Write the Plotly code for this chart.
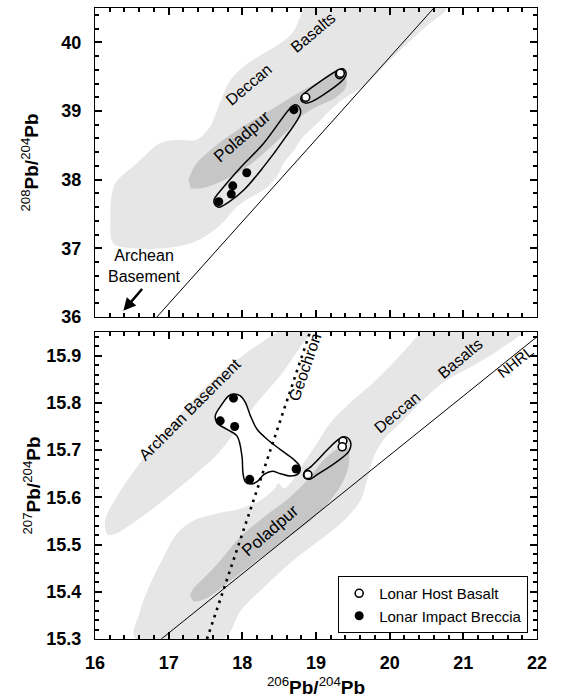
import plotly.graph_objects as go

FONT = "Liberation Sans, Arial, Helvetica, sans-serif"

# ---------------- axis ranges ----------------
x_range = [16, 22]
top_y_range = [36, 40.5]
bot_y_range = [15.3, 15.95]

# ---------------- top panel: 208Pb/204Pb vs 206Pb/204Pb ----------------
top_breccia_x = [17.68, 17.85, 17.87, 18.06, 18.70]
top_breccia_y = [37.68, 37.79, 37.91, 38.10, 39.02]
top_host_x = [18.86, 19.32, 19.33]
top_host_y = [39.20, 39.53, 39.55]

top_deccan_x = [18.83, 20.76, 20.47, 20.195, 19.92, 19.65, 19.42, 19.20, 19.02, 18.83, 18.70, 18.56,
                18.47, 18.29, 18.06, 17.88, 17.75, 17.56, 17.29, 16.93, 16.52, 16.25, 16.21, 16.23,
                16.29, 16.57, 16.88, 17.11, 17.38, 17.56, 17.66, 17.75, 17.84, 18.02, 18.29, 18.52,
                18.68, 18.77]
top_deccan_y = [40.50, 40.50, 40.21, 39.94, 39.65, 39.36, 39.21, 39.02, 38.82, 38.63, 38.43, 38.24,
                38.05, 37.85, 37.71, 37.56, 37.39, 37.22, 37.07, 37.00, 37.00, 37.07, 37.46, 37.80,
                37.97, 38.24, 38.53, 38.58, 38.58, 38.77, 39.02, 39.26, 39.45, 39.65, 39.84, 39.99,
                40.14, 40.33]

top_polad_x = [17.27, 17.36, 17.60, 17.93, 18.38, 18.74, 19.06, 19.29, 19.39, 19.41, 19.26, 19.04,
               18.81, 18.63, 18.40, 18.08, 17.76, 17.47, 17.30]
top_polad_y = [38.00, 38.21, 38.46, 38.72, 39.01, 39.25, 39.44, 39.56, 39.52, 39.36, 39.19, 39.08,
               38.93, 38.73, 38.49, 38.20, 38.00, 37.88, 37.87]

top_breccia_env_x = [17.619, 17.72, 17.97, 18.29, 18.64, 18.71, 18.77, 18.79, 18.56, 18.29, 18.02,
                     17.81, 17.68, 17.62, 17.619]
top_breccia_env_y = [37.716, 37.86, 38.17, 38.53, 39.03, 39.09, 39.06, 38.97, 38.58, 38.19, 37.85,
                     37.67, 37.60, 37.65, 37.716]

top_host_env_x = [18.80, 18.857, 19.29, 19.365, 19.41, 19.38, 18.95, 18.857, 18.80, 18.80]
top_host_env_y = [39.21, 39.27, 39.59, 39.615, 39.55, 39.47, 39.14, 39.115, 39.15, 39.21]

top_nhrl_x = [16.84, 20.60]
top_nhrl_y = [36.00, 40.50]

# ---------------- bottom panel: 207Pb/204Pb vs 206Pb/204Pb ----------------
bot_breccia_x = [17.88, 17.70, 17.896, 18.73, 18.10]
bot_breccia_y = [15.810, 15.762, 15.750, 15.660, 15.638]
bot_host_x = [18.89, 19.365, 19.356]
bot_host_y = [15.648, 15.719, 15.707]

bot_archean_x = [16.15, 16.136, 16.295, 16.612, 16.975, 17.383, 17.837, 18.245, 18.562, 18.948,
                 18.789, 18.517, 18.200, 17.927, 17.655, 17.293, 16.930, 16.567, 16.295, 16.18]
bot_archean_y = [15.526, 15.551, 15.601, 15.673, 15.744, 15.815, 15.880, 15.926, 15.955, 15.955,
                 15.919, 15.858, 15.801, 15.744, 15.690, 15.640, 15.594, 15.551, 15.524, 15.519]

bot_deccan_x = [20.467, 21.828, 21.510, 21.147, 20.739, 20.467, 20.195, 19.923, 19.787, 19.696,
                19.605, 19.424, 19.107, 18.744, 18.336, 17.973, 17.746, 16.544, 16.612, 16.748,
                16.930, 17.111, 17.338, 17.655, 17.973, 18.245, 18.426, 18.494, 18.562, 18.653,
                18.834, 19.016, 19.197, 19.469, 19.787, 20.104, 20.331]
bot_deccan_y = [15.957, 15.957, 15.915, 15.880, 15.844, 15.808, 15.765, 15.723, 15.687, 15.637,
                15.594, 15.558, 15.516, 15.473, 15.416, 15.359, 15.301, 15.301, 15.359, 15.416,
                15.473, 15.523, 15.551, 15.566, 15.576, 15.594, 15.616, 15.630, 15.619, 15.630,
                15.673, 15.715, 15.758, 15.801, 15.844, 15.894, 15.933]

bot_polad_x = [17.338, 17.655, 17.973, 18.290, 18.653, 18.925, 19.107, 19.333, 19.433, 19.447,
               19.379, 19.197, 18.925, 18.562, 18.200, 17.837, 17.519, 17.338, 17.293]
bot_polad_y = [15.408, 15.458, 15.516, 15.558, 15.601, 15.644, 15.680, 15.705, 15.703, 15.673,
               15.637, 15.594, 15.551, 15.508, 15.466, 15.423, 15.387, 15.380, 15.394]

bot_breccia_env_x = [17.882, 17.973, 18.041, 18.109, 18.200, 18.336, 18.517, 18.698, 18.780, 18.766,
                     18.653, 18.517, 18.404, 18.290, 18.200, 18.109, 18.041, 18.009, 17.995, 17.927,
                     17.791, 17.655, 17.633, 17.723, 17.814, 17.882]
bot_breccia_env_y = [15.819, 15.815, 15.801, 15.773, 15.744, 15.723, 15.701, 15.680, 15.665, 15.651,
                     15.645, 15.650, 15.655, 15.648, 15.633, 15.628, 15.633, 15.651, 15.687, 15.730,
                     15.744, 15.758, 15.773, 15.797, 15.815, 15.819]

bot_host_env_x = [18.848, 18.925, 19.311, 19.401, 19.469, 19.447, 19.016, 18.902, 18.834, 18.848]
bot_host_env_y = [15.655, 15.664, 15.723, 15.728, 15.717, 15.698, 15.648, 15.638, 15.644, 15.655]

bot_nhrl_x = [16.90, 22.00]
bot_nhrl_y = [15.300, 15.940]
geochron_x = [17.52, 18.93]
geochron_y = [15.300, 15.955]

LIGHT = "#e6e6e6"
DARK = "#c6c6c6"

fig = go.Figure()


def region(x, y, color, xa, ya):
    fig.add_trace(go.Scatter(x=x, y=y, fill="toself", fillcolor=color, mode="lines",
                             line=dict(width=0, shape="spline", smoothing=1.0),
                             hoverinfo="skip", showlegend=False, xaxis=xa, yaxis=ya))


def line(x, y, xa, ya, width=1.0, dash="solid", spline=False, fill=None):
    kw = dict(fill="toself", fillcolor=fill) if fill else {}
    fig.add_trace(go.Scatter(x=x, y=y, mode="lines",
                             line=dict(color="black", width=width, dash=dash,
                                       shape="spline" if spline else "linear"),
                             hoverinfo="skip", showlegend=False, xaxis=xa, yaxis=ya, **kw))


def points(x, y, xa, ya, host, legend):
    if host:
        marker = dict(symbol="circle", size=8, color="white", line=dict(color="black", width=1.6))
        name = "Lonar Host Basalt"
        rank = 1
    else:
        marker = dict(symbol="circle", size=9, color="black", line=dict(color="black", width=0))
        name = "Lonar Impact Breccia"
        rank = 2
    fig.add_trace(go.Scatter(x=x, y=y, mode="markers", marker=marker, name=name,
                             legendrank=rank, showlegend=legend, xaxis=xa, yaxis=ya))


# top panel
region(top_deccan_x, top_deccan_y, LIGHT, "x", "y")
region(top_polad_x, top_polad_y, DARK, "x", "y")
line(top_nhrl_x, top_nhrl_y, "x", "y", width=1.0)
line(top_breccia_env_x, top_breccia_env_y, "x", "y", width=1.5, spline=True)
line(top_host_env_x, top_host_env_y, "x", "y", width=1.5, spline=True)
points(top_host_x, top_host_y, "x", "y", True, True)
points(top_breccia_x, top_breccia_y, "x", "y", False, True)

# bottom panel
region(bot_archean_x, bot_archean_y, LIGHT, "x2", "y2")
region(bot_deccan_x, bot_deccan_y, LIGHT, "x2", "y2")
region(bot_polad_x, bot_polad_y, DARK, "x2", "y2")
line(bot_breccia_env_x, bot_breccia_env_y, "x2", "y2", width=1.5, spline=True, fill="white")
line(bot_nhrl_x, bot_nhrl_y, "x2", "y2", width=1.0)
line(geochron_x, geochron_y, "x2", "y2", width=2.6, dash="2.6px,5px")
line(bot_host_env_x, bot_host_env_y, "x2", "y2", width=1.5, spline=True)
points(bot_host_x, bot_host_y, "x2", "y2", True, False)
points(bot_breccia_x, bot_breccia_y, "x2", "y2", False, False)

tick_font = dict(family=FONT, size=18, color="black", weight="bold")
title_font = dict(family=FONT, size=19, color="black")


def axis(**kw):
    d = dict(showline=True, linecolor="black", linewidth=1, mirror="ticks",
             ticks="inside", ticklen=7, tickwidth=1.5, tickcolor="black",
             showgrid=False, zeroline=False, automargin=False, tickfont=tick_font)
    d.update(kw)
    return d


fig.update_layout(
    width=562, height=699,
    margin=dict(l=95, r=25, t=8, b=60),
    paper_bgcolor="white", plot_bgcolor="white",
    font=dict(family=FONT, color="black"),
    showlegend=True,
    legend=dict(x=0.98, y=0.0998, xanchor="right", yanchor="top",
                bgcolor="white", bordercolor="black", borderwidth=1,
                font=dict(family=FONT, size=15, color="black"),
                itemwidth=30, tracegroupgap=0),
    xaxis=axis(domain=[0, 1], anchor="y", range=x_range, dtick=1, showticklabels=False,
               minor=dict(dtick=0.2, ticks="inside", ticklen=4, tickwidth=1.5, tickcolor="black")),
    yaxis=axis(domain=[0.5103, 1], anchor="x", range=top_y_range, dtick=1, ticklabelstandoff=9,
               minor=dict(dtick=0.2, ticks="inside", ticklen=4, tickwidth=1.5, tickcolor="black"),
               title=dict(text="<sup>208</sup><b>Pb/</b><sup>204</sup><b>Pb</b>",
                          font=title_font, standoff=17)),
    xaxis2=axis(domain=[0, 1], anchor="y2", range=x_range, dtick=1, ticklabelstandoff=7,
                minor=dict(dtick=0.2, ticks="inside", ticklen=4, tickwidth=1.5, tickcolor="black"),
                title=dict(text="<sup>206</sup><b>Pb/</b><sup>204</sup><b>Pb</b>",
                           font=title_font, standoff=9)),
    yaxis2=axis(domain=[0, 0.4865], anchor="x2", range=bot_y_range, dtick=0.1, tickformat=".1f",
                ticklabelstandoff=9,
                minor=dict(dtick=0.02, ticks="inside", ticklen=4, tickwidth=1.5, tickcolor="black"),
                title=dict(text="<sup>207</sup><b>Pb/</b><sup>204</sup><b>Pb</b>",
                           font=title_font, standoff=0)),
)


def label(text, x, y, angle, xref, yref, size=16):
    fig.add_annotation(text=text, x=x, y=y, xref=xref, yref=yref, textangle=angle,
                       showarrow=False, xanchor="center", yanchor="middle",
                       font=dict(family=FONT, size=size, color="black"))


label("Deccan", 18.09, 39.38, -40, "x", "y")
label("Basalts", 18.96, 40.14, -40, "x", "y")
label("Poladpur", 18.00, 38.63, -41, "x", "y", size=17)
label("Archean<br>Basement", 16.667, 36.75, 0, "x", "y")
fig.add_annotation(x=16.385, y=36.09, ax=16.657, ay=36.43, xref="x", yref="y", axref="x", ayref="y",
                   text="", showarrow=True, arrowhead=2, arrowsize=1, arrowwidth=2.5,
                   arrowcolor="black")

label("Archean Basement", 17.29, 15.785, -45, "x2", "y2")
label("Geochron", 18.857, 15.876, -71, "x2", "y2")
label("Deccan", 20.10, 15.78, -40, "x2", "y2")
label("Basalts", 20.957, 15.894, -40, "x2", "y2")
label("NHRL", 21.71, 15.887, -38.5, "x2", "y2", size=15)
label("Poladpur", 18.38, 15.53, -41, "x2", "y2", size=17)

fig.write_html("out.html", config={"displayModeBar": False},
               post_script="document.body.style.margin='0';")
